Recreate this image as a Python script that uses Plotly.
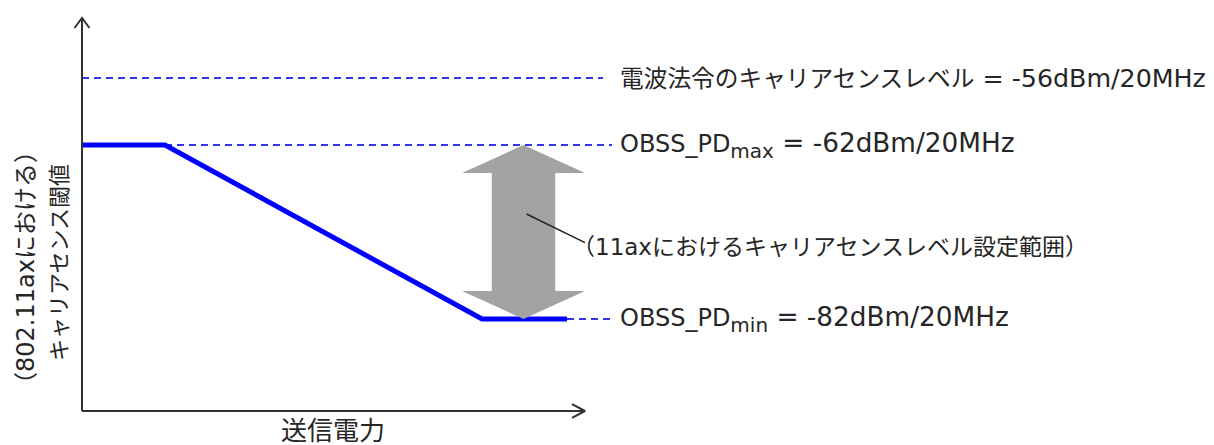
import plotly.graph_objects as go

# ---- data (schematic drawing units: x = transmit power 0-100, y = threshold position 0-100) ----
level_dbm = [-56, -62, -82]
level_names = ["電波法令のキャリアセンスレベル", "OBSS_PD|max", "OBSS_PD|min"]
level_pos = [83.25, 66.5, 23.0]          # vertical position of each level in the drawing
dash_start = [0, 16.6, 97]
dash_end = [104.2, 106, 106]
curve_x = [0, 16.6, 80, 97]              # transmit power breakpoints
curve_y = [66.5, 66.5, 23.0, 23.0]       # OBSS_PD threshold curve
range_arrow_x = 88.3
range_label = "（11axにおけるキャリアセンスレベル設定範囲）"
x_title = "送信電力"
y_title_lines = ["（802.11axにおける）", "キャリアセンス閾値"]

FONT = "DejaVu Sans, Noto Sans CJK JP, sans-serif"
TXT = "#262626"
AX = "#333333"
label_sizes = [25.3, 26.3, 26.3]

fig = go.Figure()

# dashed reference levels
for xs, xe, y in zip(dash_start, dash_end, level_pos):
    fig.add_trace(go.Scatter(x=[xs, xe], y=[y, y], mode="lines",
                             line=dict(color="#3535ee", width=2, dash="7px,5px"),
                             hoverinfo="skip"))

# threshold curve
fig.add_trace(go.Scatter(x=curve_x, y=curve_y, mode="lines",
                         line=dict(color="#0000ff", width=5), hoverinfo="skip"))

# axes with open arrowheads
y_top = 98.25
x_end = 100.6
fig.add_trace(go.Scatter(x=[0, 0], y=[0, y_top], mode="lines",
                         line=dict(color=AX, width=2), hoverinfo="skip"))
fig.add_trace(go.Scatter(x=[-1.5, 0, 1.5], y=[y_top - 2.5, y_top, y_top - 2.5], mode="lines",
                         line=dict(color=AX, width=2), hoverinfo="skip"))
fig.add_trace(go.Scatter(x=[0, x_end], y=[0, 0], mode="lines",
                         line=dict(color=AX, width=2), hoverinfo="skip"))
fig.add_trace(go.Scatter(x=[x_end - 2.6, x_end, x_end - 2.6], y=[1.7, 0, -1.7], mode="lines",
                         line=dict(color=AX, width=2), hoverinfo="skip"))

# gray double-headed arrow spanning OBSS_PD range
cx = range_arrow_x
top, bot = level_pos[1], level_pos[2]
hw_head, hw_shaft, h_head = 12.3, 6.34, 7.0
pts = [
    (cx, top), (cx + hw_head, top - h_head), (cx + hw_shaft, top - h_head),
    (cx + hw_shaft, bot + h_head), (cx + hw_head, bot + h_head), (cx, bot),
    (cx - hw_head, bot + h_head), (cx - hw_shaft, bot + h_head),
    (cx - hw_shaft, top - h_head), (cx - hw_head, top - h_head),
]
path = "M " + " L ".join(f"{px},{py}" for px, py in pts) + " Z"
fig.add_shape(type="path", path=path, xref="x", yref="y",
              fillcolor="#a3a3a3", line=dict(width=0), layer="above")

# leader line
fig.add_shape(type="line", xref="x", yref="y", x0=cx + 0.6, y0=49.25, x1=100.6, y1=42.1,
              line=dict(color="#222222", width=1.5), layer="above")


def fmt_name(name):
    if "|" in name:
        base, sub = name.split("|")
        return (f'<span style="font-size:24px">{base}</span>'
                f'<sub><span style="font-size:20px">{sub}</span></sub>')
    return f'<span style="font-size:23.7px">{name}</span>'


# level labels
for name, dbm, y, fs in zip(level_names, level_dbm, level_pos, label_sizes):
    fig.add_annotation(x=107.2, y=y, xref="x", yref="y", xanchor="left", yanchor="middle",
                       text=f"{fmt_name(name)} = {dbm}dBm/20MHz", showarrow=False,
                       font=dict(family=FONT, size=fs, color=TXT))

fig.add_annotation(x=97.6, y=41.1, xref="x", yref="y", xanchor="left", yanchor="middle",
                   text=range_label, showarrow=False,
                   font=dict(family=FONT, size=23, color=TXT))

# axis titles
fig.add_annotation(x=50.2, y=-5.1, xref="x", yref="y", xanchor="center", yanchor="middle",
                   text=x_title, showarrow=False, font=dict(family=FONT, size=26, color=TXT))
fig.add_annotation(x=-11.2, y=35.75, xref="x", yref="y", xanchor="center", yanchor="middle",
                   text=y_title_lines[0], textangle=-90, showarrow=False,
                   font=dict(family=FONT, size=24, color=TXT))
fig.add_annotation(x=-4.6, y=37.0, xref="x", yref="y", xanchor="center", yanchor="middle",
                   text=y_title_lines[1], textangle=-90, showarrow=False,
                   font=dict(family=FONT, size=22, color=TXT))

# page body has an 8px margin: size/offset the figure so the drawing lands where intended
fig.update_layout(
    width=1206, height=437,
    margin=dict(l=0, r=0, t=0, b=0, pad=0),
    paper_bgcolor="white", plot_bgcolor="white",
    showlegend=False, hovermode=False,
    xaxis=dict(range=[-14.8, 226.4], visible=False, fixedrange=True),
    yaxis=dict(range=[-8.5, 100.75], visible=False, fixedrange=True),
)

fig.write_html("out.html")
